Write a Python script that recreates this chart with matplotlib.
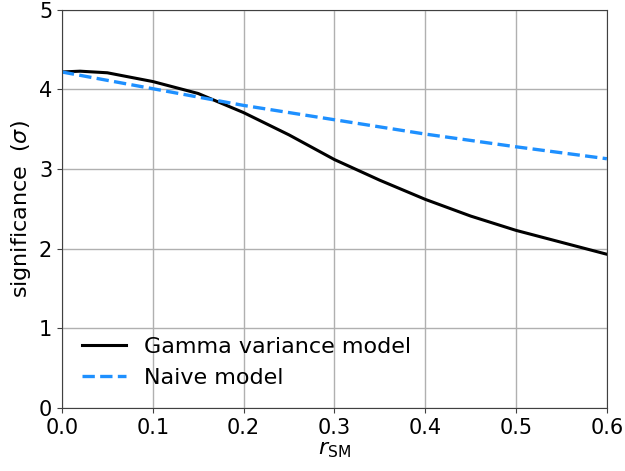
import matplotlib.pyplot as plt

# data
r_gamma = [0.0, 0.02, 0.05, 0.10, 0.15, 0.20, 0.25, 0.30, 0.35, 0.40, 0.45, 0.50, 0.55, 0.60]
sig_gamma = [4.22, 4.23, 4.21, 4.10, 3.95, 3.71, 3.43, 3.12, 2.86, 2.62, 2.41, 2.23, 2.08, 1.93]

r_naive = [0.0, 0.1, 0.2, 0.3, 0.4, 0.5, 0.6]
sig_naive = [4.22, 4.01, 3.80, 3.62, 3.44, 3.28, 3.13]

fig, ax = plt.subplots(figsize=(6.25, 4.71), dpi=100)
fig.subplots_adjust(left=0.099, right=0.971, top=0.979, bottom=0.134)

ax.plot(r_gamma, sig_gamma, color='black', linewidth=2.2, label='Gamma variance model')
ax.plot(r_naive, sig_naive, color='dodgerblue', linewidth=2.4, linestyle='--', label='Naive model')

ax.set_xlim(0, 0.6)
ax.set_ylim(0, 5)
ax.grid(True, color='#b0b0b0', linewidth=1)
ax.tick_params(labelsize=15, color='0.25')
for s in ax.spines.values():
    s.set_color('0.25')
ax.set_xlabel(r'$r_{\rm SM}$', fontsize=16, labelpad=2)
ax.set_ylabel(r'significance  ($\sigma$)', fontsize=16)
ax.legend(loc='lower left', frameon=False, fontsize=16, borderaxespad=0.5)

fig.savefig('out.png', dpi=100)
